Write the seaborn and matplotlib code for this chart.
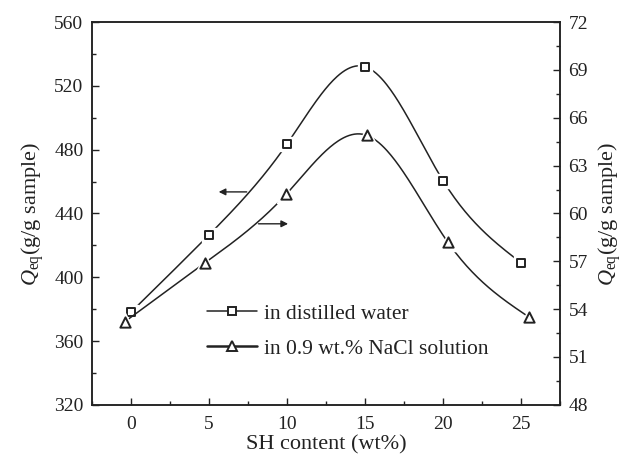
import numpy as np
import pandas as pd
import seaborn as sns
import matplotlib.pyplot as plt
from matplotlib.ticker import MultipleLocator
from matplotlib.lines import Line2D

# data
sh_water = [0, 5, 10, 15, 20, 25]
q_water = [378, 426.5, 483.5, 532, 460.5, 409]          # left axis
sh_nacl = [-0.4, 4.75, 9.95, 15.1, 20.3, 25.5]
q_nacl = [53.2, 56.9, 61.2, 64.9, 58.2, 53.5]             # right axis
labels = ['in distilled water', 'in 0.9 wt.% NaCl solution']


def natural_spline(x, y, n=300):
    # plain natural cubic spline, just for drawing a smooth curve through the points
    x = np.asarray(x, float)
    y = np.asarray(y, float)
    h = np.diff(x)
    m = len(x)
    A = np.zeros((m, m))
    b = np.zeros(m)
    A[0, 0] = A[-1, -1] = 1
    for i in range(1, m - 1):
        A[i, i - 1] = h[i - 1]
        A[i, i] = 2 * (h[i - 1] + h[i])
        A[i, i + 1] = h[i]
        b[i] = 6 * ((y[i + 1] - y[i]) / h[i] - (y[i] - y[i - 1]) / h[i - 1])
    M = np.linalg.solve(A, b)
    xs = np.linspace(x[0], x[-1], n)
    k = np.clip(np.searchsorted(x, xs) - 1, 0, m - 2)
    t0 = x[k + 1] - xs
    t1 = xs - x[k]
    hk = h[k]
    ys = (M[k] * t0**3 + M[k + 1] * t1**3) / (6 * hk) \
        + (y[k] / hk - M[k] * hk / 6) * t0 + (y[k + 1] / hk - M[k + 1] * hk / 6) * t1
    return pd.DataFrame({'x': xs, 'y': ys})


sns.set_style('ticks')
plt.rcParams['font.family'] = ['Liberation Serif', 'DejaVu Serif']
plt.rcParams['mathtext.fontset'] = 'custom'
plt.rcParams['mathtext.it'] = 'Liberation Serif:italic'
plt.rcParams['mathtext.rm'] = 'Liberation Serif'

ink = '#222222'
fig = plt.figure(figsize=(6.33, 4.59), dpi=100)
ax = fig.add_axes([0.145, 0.118, 0.74, 0.834])
ax2 = ax.twinx()

water_curve = natural_spline(sh_water, q_water)
nacl_curve = natural_spline(sh_nacl, q_nacl)
sns.lineplot(data=water_curve, x='x', y='y', ax=ax, color=ink, lw=1.1, sort=False, zorder=2)
sns.lineplot(data=nacl_curve, x='x', y='y', ax=ax2, color=ink, lw=1.1, sort=False, zorder=2)

# white halo so the line stops short of each marker
ax.scatter(sh_water, q_water, s=110, marker='s', color='white', zorder=3)
ax2.scatter(sh_nacl, q_nacl, s=170, marker='^', color='white', zorder=3)
sns.scatterplot(x=sh_water, y=q_water, ax=ax, marker='s', s=28, facecolor='white',
                edgecolor=ink, linewidth=1.4, zorder=4)
sns.scatterplot(x=sh_nacl, y=q_nacl, ax=ax2, marker='^', s=55, facecolor='white',
                edgecolor=ink, linewidth=1.4, zorder=4)

# arrows pointing to the matching axis
ax.annotate('', xy=(5.45, 453.5), xytext=(7.6, 453.5),
            arrowprops=dict(arrowstyle='-|>', color=ink, lw=1, mutation_scale=10))
ax.annotate('', xy=(10.25, 433.5), xytext=(8.0, 433.5),
            arrowprops=dict(arrowstyle='-|>', color=ink, lw=1, mutation_scale=10))

ax.set_xlim(-2.5, 27.5)
ax.set_ylim(320, 560)
ax2.set_ylim(48, 72)
ax.xaxis.set_major_locator(MultipleLocator(5))
ax.xaxis.set_minor_locator(MultipleLocator(2.5))
ax.yaxis.set_major_locator(MultipleLocator(40))
ax.yaxis.set_minor_locator(MultipleLocator(20))
ax2.yaxis.set_major_locator(MultipleLocator(3))
ax2.yaxis.set_minor_locator(MultipleLocator(1.5))

for a in (ax, ax2):
    a.tick_params(which='major', direction='in', length=5, width=1, labelsize=14, colors=ink,
                  labelcolor=ink)
    a.tick_params(which='minor', direction='in', length=3, width=1, colors=ink)
    for s in a.spines.values():
        s.set_color(ink)
        s.set_linewidth(1.1)
ax.tick_params(axis='x', pad=8)
ax.tick_params(axis='y', pad=6)
ax2.tick_params(axis='y', pad=6)

ax.set_xlabel('SH content (wt%)', fontsize=16, color=ink, labelpad=2)
ax.set_ylabel(r'$Q_{\mathrm{eq}}$(g/g sample)', fontsize=16, color=ink, labelpad=6)
ax2.set_ylabel(r'$Q_{\mathrm{eq}}$(g/g sample)', fontsize=16, color=ink, labelpad=6,
               rotation=90)

# legend
handles = [Line2D([], [], color=ink, lw=1.1, marker='s', ms=5.5, mfc='white', mec=ink, mew=1.4),
           Line2D([], [], color=ink, lw=1.8, marker='^', ms=7.5, mfc='white', mec=ink, mew=1.4)]
ax.legend(handles, labels, loc='upper left', bbox_to_anchor=(0.205, 0.315), frameon=False,
          fontsize=15.5, handlelength=2.3, handletextpad=0.35, labelspacing=0.7,
          labelcolor=ink)

fig.savefig('out.png', dpi=100)
